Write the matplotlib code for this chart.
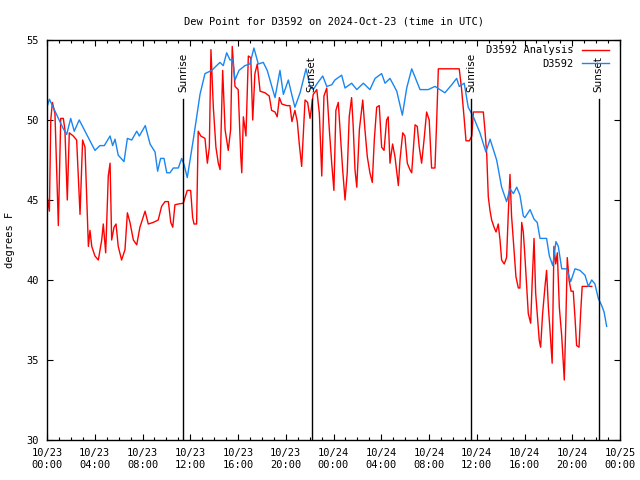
import matplotlib
matplotlib.use("Agg")
import matplotlib.pyplot as plt
import matplotlib.dates as mdates
import pandas as pd

plt.rcParams['font.family'] = ['DejaVu Sans Mono']

start = pd.Timestamp("2024-10-23 00:00")

# Observed station series (minutes after 2024-10-23 00:00 UTC, deg F)
obs_min = [0, 12, 80, 99, 119, 137, 162, 241, 266, 288, 317, 330, 342, 358, 387, 404, 426, 451,
           464, 494, 518, 543, 556, 571, 588, 602, 618, 635, 660, 677, 689, 705, 735, 769, 794,
           828, 869, 886, 903, 920, 933, 945, 965, 995, 1020, 1040, 1062, 1087, 1107, 1146, 1171,
           1188, 1213, 1230, 1246, 1272, 1302, 1322, 1338, 1359, 1386, 1406, 1431, 1447, 1481,
           1498, 1531, 1557, 1590, 1623, 1649, 1682, 1699, 1724, 1758, 1786, 1808, 1833, 1875,
           1916, 1950, 1975, 2000, 2034, 2059, 2072, 2097, 2117, 2143, 2176, 2206, 2227, 2260,
           2285, 2310, 2327, 2344, 2361, 2377, 2394, 2402, 2428, 2448, 2464, 2478, 2511, 2525,
           2542, 2558, 2570, 2587, 2612, 2632, 2654, 2679, 2704, 2721, 2738, 2754, 2771, 2788,
           2800, 2813]
obs_val = [50.8, 51.3, 49.5, 49.1, 50.1, 49.3, 50.0, 48.1, 48.4, 48.4, 49.0, 48.4, 48.8, 47.8,
           47.4, 48.85, 48.75, 49.3, 49.0, 49.65, 48.5, 48.0, 46.8, 47.6, 47.6, 46.7, 46.7, 47.0,
           47.0, 47.6, 47.2, 46.4, 48.75, 51.6, 52.9, 53.1, 53.6, 53.4, 54.2, 53.75, 53.8, 52.5,
           53.1, 53.4, 53.5, 54.5, 53.5, 53.6, 53.1, 51.4, 53.1, 51.6, 52.5, 51.6, 50.8, 51.7,
           53.2, 52.1, 51.9, 52.3, 52.75, 52.1, 52.2, 52.5, 52.8, 52.0, 52.3, 51.9, 52.3, 51.9,
           52.6, 52.9, 52.3, 52.6, 51.8, 50.3, 52.0, 53.2, 51.9, 51.9, 52.1, 51.9, 51.7, 52.2,
           52.6, 52.1, 52.3, 50.8, 50.2, 49.2, 48.0, 48.8, 47.5, 45.8, 44.9, 45.7, 45.4, 45.8,
           45.3, 44.0, 43.9, 44.4, 43.8, 43.6, 42.6, 42.6, 41.5, 40.9, 42.4, 42.1, 40.7, 40.7,
           39.9, 40.7, 40.6, 40.3, 39.6, 40.0, 39.75, 38.85, 38.4, 38.0, 37.1]

# Analysis series
ana_min = [0, 12, 19, 27, 40, 57, 69, 82, 90, 102, 112, 132, 149, 166, 179, 191, 208, 216, 225,
           241, 258, 275, 283, 295, 308, 317, 325, 337, 347, 358, 375, 392, 404, 417, 434, 451,
           467, 493, 509, 534, 559, 576, 593, 610, 622, 632, 643, 660, 685, 705, 722, 732, 739,
           752, 760, 773, 794, 806, 816, 824, 836, 849, 861, 870, 883, 895, 911, 923, 931, 945,
           961, 974, 979, 987, 1000, 1012, 1024, 1034, 1045, 1057, 1071, 1096, 1117, 1129, 1146,
           1157, 1168, 1180, 1205, 1221, 1231, 1246, 1258, 1268, 1280, 1297, 1310, 1322, 1338,
           1356, 1369, 1381, 1392, 1406, 1419, 1431, 1442, 1452, 1464, 1476, 1486, 1498, 1509,
           1519, 1531, 1539, 1548, 1557, 1570, 1587, 1598, 1610, 1623, 1635, 1645, 1657, 1670,
           1682, 1694, 1707, 1715, 1724, 1737, 1749, 1766, 1774, 1788, 1799, 1811, 1824, 1833,
           1850, 1861, 1871, 1883, 1895, 1908, 1921, 1933, 1950, 1959, 1967, 2072, 2084, 2096,
           2106, 2123, 2135, 2143, 2193, 2201, 2210, 2218, 2227, 2235, 2247, 2257, 2268, 2277,
           2285, 2298, 2310, 2318, 2327, 2335, 2347, 2357, 2369, 2377, 2386, 2394, 2402, 2411,
           2419, 2431, 2439, 2448, 2456, 2464, 2474, 2481, 2491, 2503, 2511, 2520, 2528, 2539,
           2548, 2557, 2565, 2575, 2587, 2595, 2600, 2608, 2615, 2624, 2634, 2645, 2654, 2662,
           2674, 2682, 2690, 2709, 2738]
ana_val = [45.3, 44.3, 50.0, 51.1, 50.4, 43.4, 50.1, 50.1, 49.4, 45.0, 49.2, 49.0, 48.75, 44.1,
           48.75, 48.3, 42.1, 43.1, 42.1, 41.5, 41.25, 42.5, 43.5, 41.7, 46.5, 47.3, 42.5, 43.3,
           43.5, 42.1, 41.25, 41.9, 44.2, 43.6, 42.5, 42.2, 43.3, 44.3, 43.5, 43.6, 43.75, 44.6,
           44.9, 44.9, 43.6, 43.3, 44.7, 44.75, 44.8, 45.6, 45.6, 43.9, 43.5, 43.5, 49.3, 49.0,
           48.85, 47.3, 48.3, 54.4, 50.8, 48.3, 47.3, 46.9, 53.1, 49.4, 48.1, 49.4, 54.6, 52.1,
           51.9, 47.7, 46.7, 50.2, 49.0, 54.0, 53.9, 50.0, 52.9, 53.5, 51.8, 51.7, 51.5, 50.6,
           50.5, 50.2, 51.4, 51.0, 50.9, 50.9, 49.9, 50.6, 49.9, 48.5, 47.1, 51.25, 51.1, 50.1,
           51.6, 51.9, 50.4, 46.5, 51.5, 52.0, 49.4, 47.3, 45.6, 50.6, 51.1, 48.75, 46.9, 45.0,
           46.7, 50.2, 51.4, 49.6, 46.9, 45.8, 49.4, 51.25, 49.4, 47.7, 46.7, 46.1, 48.75, 50.8,
           50.9, 48.3, 48.1, 50.0, 50.2, 47.3, 48.5, 47.7, 45.9, 47.5, 49.2, 49.0, 47.3, 46.9,
           46.7, 49.7, 49.6, 48.3, 47.3, 48.75, 50.5, 50.0, 47.0, 47.0, 50.1, 53.2, 53.2, 51.9,
           50.2, 48.7, 48.7, 49.0, 50.5, 50.5, 49.4, 47.9, 45.2, 44.3, 43.75, 43.3, 43.0, 43.5,
           42.5, 41.25, 41.0, 41.4, 44.0, 46.6, 44.0, 41.9, 40.2, 39.5, 39.5, 43.6, 43.0, 41.5,
           39.6, 37.9, 37.3, 40.0, 42.6, 39.2, 37.9, 36.25, 35.8, 37.9, 39.6, 40.6, 38.3, 36.9,
           34.8, 42.1, 41.0, 41.7, 38.3, 36.5, 34.8, 33.75, 37.5, 41.4, 40.0, 39.3, 39.3, 37.6,
           35.9, 35.8, 37.9, 39.6, 39.6, 39.6]

sun_labels = ["Sunrise", "Sunset", "Sunrise", "Sunset"]
sun_times = ["2024-10-23 11:25", "2024-10-23 22:10", "2024-10-24 11:33", "2024-10-24 22:12"]
sun_line_top = 51.3

obs_t = [start + pd.Timedelta(minutes=m) for m in obs_min]
ana_t = [start + pd.Timedelta(minutes=m) for m in ana_min]

fig = plt.figure(figsize=(6.4, 4.8), dpi=100)
ax = fig.add_axes([47 / 640, 40 / 480, 573 / 640, 400 / 480])

ax.plot(ana_t, ana_val, color='#ff0000', lw=1.0, label='D3592 Analysis')
ax.plot(obs_t, obs_val, color='#1a86f0', lw=1.0, label='D3592')

fs = 7.5
for lab, t in zip(sun_labels, sun_times):
    tt = pd.Timestamp(t)
    ax.plot([tt, tt], [30, sun_line_top], color='black', lw=1.0)
    ax.text(tt, sun_line_top + 0.45, lab, rotation=90, ha='center', va='bottom',
            fontsize=fs, family=['DejaVu Sans'])

ax.set_xlim(start, start + pd.Timedelta(hours=48))
ax.set_ylim(30, 55)
ax.set_yticks([30, 35, 40, 45, 50, 55])
ax.xaxis.set_major_locator(mdates.HourLocator(byhour=[0, 4, 8, 12, 16, 20]))
ax.xaxis.set_minor_locator(mdates.HourLocator())
ax.xaxis.set_major_formatter(mdates.DateFormatter('%m/%d\n%H:%M'))
ax.tick_params(axis='both', which='major', direction='in', length=4, width=0.8,
               top=True, right=True, labelsize=fs, pad=6)
ax.tick_params(axis='x', which='minor', direction='in', length=2, width=0.8, top=True)
for sp in ax.spines.values():
    sp.set_linewidth(1.0)

ax.set_title('Dew Point for D3592 on 2024-Oct-23 (time in UTC)', fontsize=fs, pad=11)
ax.set_ylabel('degrees F', fontsize=fs, labelpad=8)

leg = ax.legend(loc='upper right', frameon=False, markerfirst=False, fontsize=fs,
                handlelength=2.6, handletextpad=0.8, labelspacing=0.35,
                borderaxespad=0.1, bbox_to_anchor=(0.99, 1.0))
for t in leg.get_texts():
    t.set_ha('right')

fig.savefig('out.png', dpi=100)
